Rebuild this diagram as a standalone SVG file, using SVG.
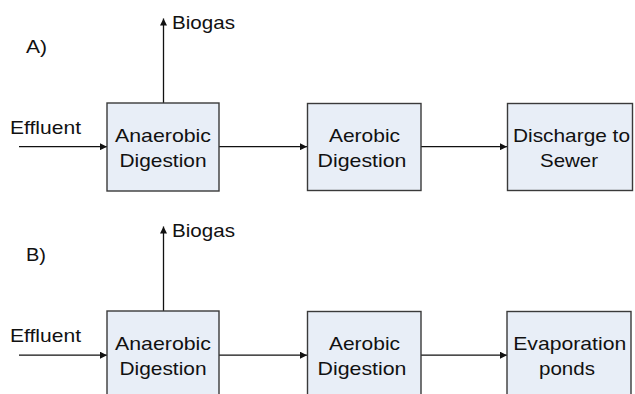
<svg xmlns="http://www.w3.org/2000/svg" width="635" height="394" viewBox="0 0 635 394">
<defs>
<style>
.box{fill:#e8eef7;stroke:#3a3a3a;stroke-width:1.4}
.t{font-family:"Liberation Sans",Arial,sans-serif;font-size:19px;fill:#111}
.m{text-anchor:middle}
.ln{stroke:#111;stroke-width:1.3;fill:none}
</style>
<marker id="ah" viewBox="0 0 10 10" refX="10" refY="5" markerWidth="9" markerHeight="7" markerUnits="userSpaceOnUse" orient="auto">
<path d="M0,0 L10,5 L0,10 z" fill="#111"/>
</marker>
</defs>
<g id="labels">
<text class="t" x="26" y="53" textLength="21" lengthAdjust="spacingAndGlyphs">A)</text>
<text class="t" x="26" y="261" textLength="20" lengthAdjust="spacingAndGlyphs">B)</text>
<text class="t" x="172" y="29" textLength="63" lengthAdjust="spacingAndGlyphs">Biogas</text>
<text class="t" x="172" y="237" textLength="63" lengthAdjust="spacingAndGlyphs">Biogas</text>
<text class="t" x="10" y="134" textLength="71" lengthAdjust="spacingAndGlyphs">Effluent</text>
<text class="t" x="10" y="342" textLength="71" lengthAdjust="spacingAndGlyphs">Effluent</text>
</g>
<g id="connectors">
<line class="ln" x1="163.5" y1="103" x2="163.5" y2="18.5" marker-end="url(#ah)"/>
<line class="ln" x1="19" y1="146.7" x2="107" y2="146.7" marker-end="url(#ah)"/>
<line class="ln" x1="219" y1="146.7" x2="307" y2="146.7" marker-end="url(#ah)"/>
<line class="ln" x1="421" y1="146.7" x2="507" y2="146.7" marker-end="url(#ah)"/>
<line class="ln" x1="163.5" y1="311" x2="163.5" y2="226.5" marker-end="url(#ah)"/>
<line class="ln" x1="19" y1="355.2" x2="107" y2="355.2" marker-end="url(#ah)"/>
<line class="ln" x1="219" y1="355.2" x2="307" y2="355.2" marker-end="url(#ah)"/>
<line class="ln" x1="421" y1="355.2" x2="507" y2="355.2" marker-end="url(#ah)"/>
</g>
<g id="a-anaerobic">
<rect class="box" x="107" y="103" width="112" height="88"/>
<text class="t m" x="163" y="141.7" textLength="96" lengthAdjust="spacingAndGlyphs">Anaerobic</text>
<text class="t m" x="163" y="167.3" textLength="87" lengthAdjust="spacingAndGlyphs">Digestion</text>
</g>
<g id="a-aerobic">
<rect class="box" x="307.5" y="103.5" width="113.5" height="87"/>
<text class="t m" x="364.5" y="141.7" textLength="71" lengthAdjust="spacingAndGlyphs">Aerobic</text>
<text class="t m" x="362" y="167.3" textLength="89" lengthAdjust="spacingAndGlyphs">Digestion</text>
</g>
<g id="a-discharge">
<rect class="box" x="507.5" y="103.5" width="125" height="87"/>
<text class="t m" x="571.5" y="141.7" textLength="117" lengthAdjust="spacingAndGlyphs">Discharge to</text>
<text class="t m" x="569" y="167.3" textLength="58" lengthAdjust="spacingAndGlyphs">Sewer</text>
</g>
<g id="b-anaerobic">
<rect class="box" x="107" y="311" width="112" height="88"/>
<text class="t m" x="163" y="349.5" textLength="96" lengthAdjust="spacingAndGlyphs">Anaerobic</text>
<text class="t m" x="163" y="375.3" textLength="87" lengthAdjust="spacingAndGlyphs">Digestion</text>
</g>
<g id="b-aerobic">
<rect class="box" x="307.5" y="311.5" width="113.5" height="87"/>
<text class="t m" x="364.5" y="349.5" textLength="71" lengthAdjust="spacingAndGlyphs">Aerobic</text>
<text class="t m" x="362" y="375.3" textLength="89" lengthAdjust="spacingAndGlyphs">Digestion</text>
</g>
<g id="b-evaporation">
<rect class="box" x="507" y="311.5" width="124" height="87"/>
<text class="t m" x="569.7" y="349.5" textLength="113" lengthAdjust="spacingAndGlyphs">Evaporation</text>
<text class="t m" x="567" y="374.5" textLength="56" lengthAdjust="spacingAndGlyphs">ponds</text>
</g>
</svg>
